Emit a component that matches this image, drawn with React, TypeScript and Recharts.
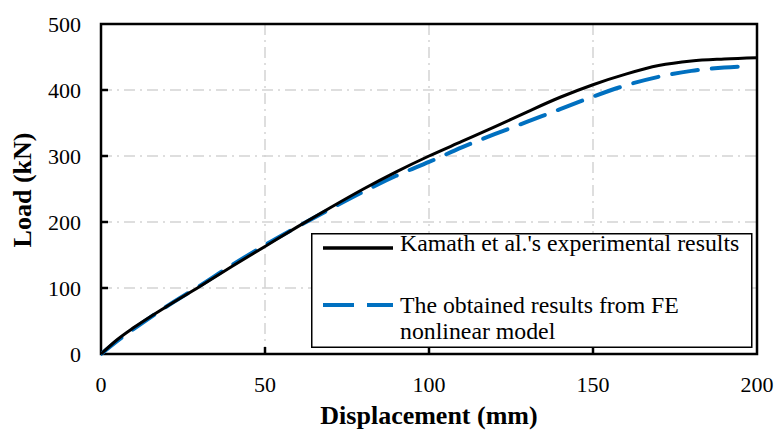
import React from "react";
import { LineChart, Line, XAxis, YAxis, CartesianGrid, ReferenceArea, Legend } from "recharts";

// Kamath et al. experimental load–displacement curve
const expDisp = [0, 5, 10, 20, 30, 40, 50, 60, 70, 80, 90, 100, 110, 120, 130, 140, 150, 160, 170, 180, 190, 200];
const expLoad = [0, 22, 40, 72, 102, 133, 163, 193, 222, 250, 276, 300, 322, 344, 367, 389, 408, 424, 437, 444, 447, 449];

// FE nonlinear model curve
const feDisp = [0, 5, 10, 20, 30, 40, 50, 60, 70, 80, 90, 100, 110, 120, 130, 140, 150, 160, 170, 180, 190, 197];
const feLoad = [0, 20, 38, 72, 103, 135, 165, 193, 220, 246, 270, 291, 313, 333, 352, 371, 390, 407, 420, 429, 434, 436];

const xTicks = [0, 50, 100, 150, 200];
const yTicks = [0, 100, 200, 300, 400, 500];

const expLabel = "Kamath et al.'s experimental results";
const feLabelLines = ["The obtained results from FE", "nonlinear model"];

const expData = expDisp.map((d, i) => ({ d, load: expLoad[i] }));
const feData = feDisp.map((d, i) => ({ d, load: feLoad[i] }));

const FONT = "Liberation Serif, Times New Roman, DejaVu Serif, serif";
const PLOT_LEFT = 101;
const PLOT_BOTTOM = 354;
const BLUE = "#0070C0";

const textStyle = { fontFamily: FONT };

const YTick = (props: any) => {
  const { y, payload } = props;
  const v = payload.value;
  return (
    <g>
      {v !== 0 && v !== 500 && (
        <line x1={PLOT_LEFT} x2={PLOT_LEFT + 7} y1={y} y2={y} stroke="#000" strokeWidth={2.5} />
      )}
      <text x={81} y={y + 7.5} textAnchor="end" style={textStyle} fontSize={22} fill="#000">
        {v}
      </text>
    </g>
  );
};

const XTick = (props: any) => {
  const { x, payload } = props;
  const v = payload.value;
  return (
    <g>
      {v !== 0 && v !== 200 && (
        <line x1={x} x2={x} y1={PLOT_BOTTOM} y2={PLOT_BOTTOM - 7} stroke="#000" strokeWidth={2.5} />
      )}
      <text x={x} y={391.5} textAnchor="middle" style={textStyle} fontSize={22} fill="#000">
        {v}
      </text>
    </g>
  );
};

const LegendBox = () => (
  <svg width={442} height={116} style={{ display: "block", overflow: "visible" }}>
    <rect x={0.75} y={0.75} width={440} height={113.5} fill="#fff" stroke="#000" strokeWidth={1.5} />
    <line x1={12} x2={82} y1={15} y2={15} stroke="#000" strokeWidth={3.5} />
    <text x={89} y={18} style={textStyle} fontSize={23.8} fill="#000">
      {expLabel}
    </text>
    <line x1={12} x2={82} y1={72} y2={72} stroke={BLUE} strokeWidth={4} strokeDasharray="31 13" />
    <text x={89} y={79.5} style={textStyle} fontSize={23.8} fill="#000">
      {feLabelLines[0]}
    </text>
    <text x={89} y={106} style={textStyle} fontSize={23.8} fill="#000">
      {feLabelLines[1]}
    </text>
  </svg>
);

export default function App() {
  return (
    <div style={{ position: "absolute", left: 0, top: 0, width: 775, height: 432, background: "#fff", fontFamily: FONT }}>
      <LineChart width={775} height={432} margin={{ top: 24, right: 18, bottom: 0, left: 0 }} style={textStyle}>
        <CartesianGrid stroke="#d4d4d4" strokeWidth={1.5} strokeDasharray="11 5 2 5" />
        <XAxis
          type="number"
          dataKey="d"
          domain={[0, 200]}
          ticks={xTicks}
          allowDataOverflow
          height={78}
          axisLine={false}
          tickLine={false}
          tick={<XTick />}
          interval={0}
        />
        <YAxis
          type="number"
          domain={[0, 500]}
          ticks={yTicks}
          width={101}
          axisLine={false}
          tickLine={false}
          tick={<YTick />}
          interval={0}
        />
        <ReferenceArea x1={0} x2={200} y1={0} y2={500} fill="none" stroke="#000" strokeWidth={2.5} ifOverflow="visible" />
        <Line
          data={feData}
          dataKey="load"
          type="monotone"
          stroke={BLUE}
          strokeWidth={4}
          strokeDasharray="26 14"
          strokeLinecap="round"
          dot={false}
          isAnimationActive={false}
        />
        <Line
          data={expData}
          dataKey="load"
          type="monotone"
          stroke="#000"
          strokeWidth={3}
          dot={false}
          isAnimationActive={false}
        />
        <Legend
          layout="horizontal"
          verticalAlign="middle"
          content={() => <LegendBox />}
          wrapperStyle={{ position: "absolute", left: 311, top: 233, width: 442, height: 116 }}
        />
        <text x={429} y={424} textAnchor="middle" style={textStyle} fontSize={26} fontWeight="bold" fill="#000">
          Displacement (mm)
        </text>
        <text
          x={31}
          y={190}
          textAnchor="middle"
          style={textStyle}
          fontSize={26}
          fontWeight="bold"
          fill="#000"
          transform="rotate(-90 31 190)"
        >
          Load (kN)
        </text>
      </LineChart>
    </div>
  );
}
